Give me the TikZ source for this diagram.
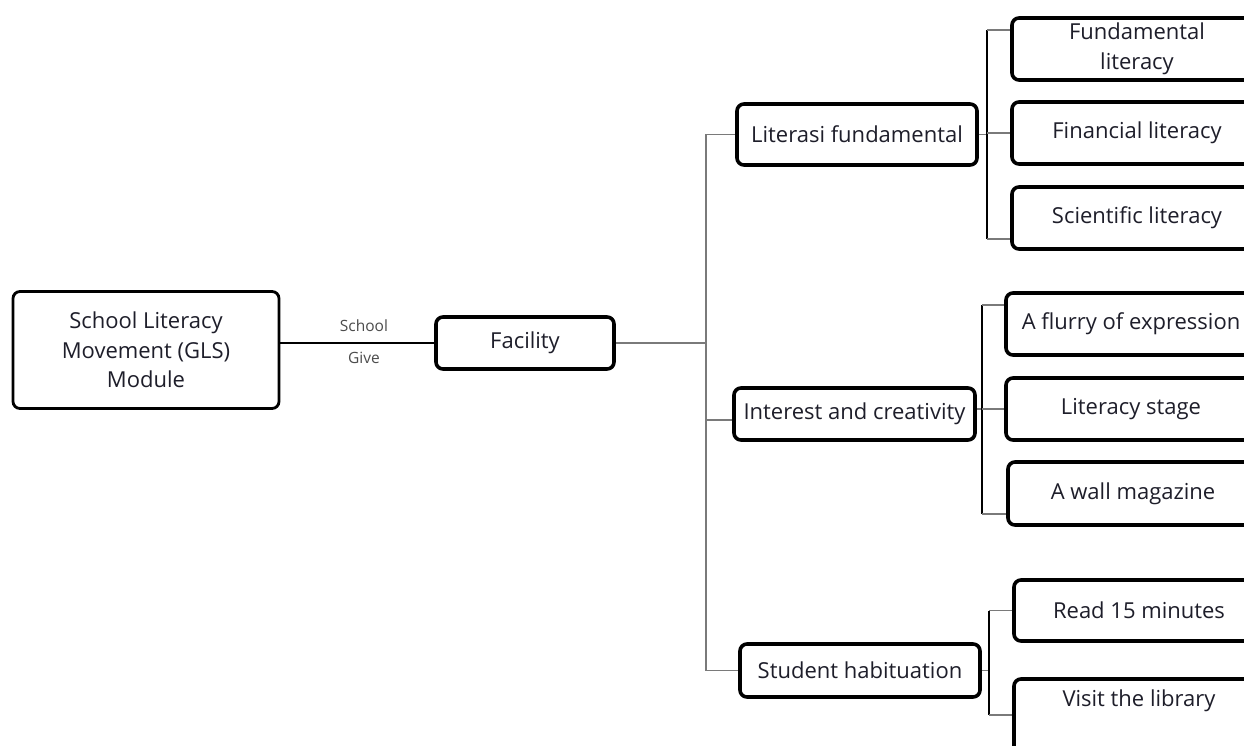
\documentclass[tikz,border=0pt]{standalone}
\usepackage{fontspec}
\setmainfont{Open Sans}
\definecolor{txt}{HTML}{1E1E2A}
\definecolor{stubgray}{HTML}{7A7A7A}
\begin{document}
\begin{tikzpicture}[x=1pt,y=-1pt,
  box/.style={draw=black, fill=white, rounded corners=7pt, line width=3.6pt,
    inner sep=0pt, align=center, text=txt, font=\fontsize{22}{29.5}\selectfont},
  main/.style={box, line width=2.8pt},
  lab/.style={text=black!70, font=\fontsize{15.5}{18}\selectfont, inner sep=0pt},
  thin/.style={draw=stubgray, line width=1.6pt},
  bar/.style={draw=black, line width=2.6pt},
  link/.style={draw=black, line width=2.6pt}]
\useasboundingbox (0,0) rectangle (1244,746);
\clip (0,0) rectangle (1244,746);
\fill[white] (0,0) rectangle (1244,746);

\node[main, minimum width=266pt, minimum height=117pt] (gls) at (146,350) {School Literacy\\Movement (GLS)\\Module};
\node[box, minimum width=178pt, minimum height=52pt] (fac) at (525,343) {Facility};
\node[box, minimum width=240pt, minimum height=61pt] (lf) at (857,134.5) {Literasi fundamental};
\node[box, minimum width=241pt, minimum height=52pt] (ic) at (854.5,414) {Interest and creativity};
\node[box, minimum width=240pt, minimum height=53pt] (sh) at (860,670.5) {Student habituation};

\node[box, minimum width=250pt, minimum height=62pt] (c11) at (1137,49) {Fundamental\\literacy};
\node[box, minimum width=250pt, minimum height=62pt] (c12) at (1137,133) {Financial literacy};
\node[box, minimum width=250pt, minimum height=62pt] (c13) at (1137,218) {Scientific literacy};
\node[box, minimum width=250pt, minimum height=62pt] (c21) at (1131,324) {A flurry of expression};
\node[box, minimum width=250pt, minimum height=62pt] (c22) at (1131,409) {Literacy stage};
\node[box, minimum width=250pt, minimum height=63pt] (c23) at (1133,493.5) {A wall magazine};
\node[box, minimum width=250pt, minimum height=61pt] (c31) at (1139,610.5) {Read 15 minutes};
\node[box, minimum width=250pt, inner ysep=4pt, text height=23pt, text depth=51pt] (c32) at (1139,720) {Visit the library};

% labels on first connector
\node[lab] (l1) at (364,326) {School};
\node[lab] (l2) at (364,358) {Give};

% junction of the trunk
\coordinate (t) at (706,343);

% connectors
\draw[link] (fac.west -| gls.east) -- (fac.west);
\draw[thin] (fac.east) -- (t);
\draw[thin] (t) |- (lf.west);
\draw[thin] (t) |- ([yshift=-6pt]ic.west);
\draw[thin] (t) |- (sh.west);

% group 1
\coordinate (s1) at (987,134);
\coordinate (a1) at ([yshift=-14pt]c11.north west);
\coordinate (b1) at ([yshift=12pt]c13.south west);
\draw[thin] (lf.east) -- (lf.east -| s1);
\draw[bar] (a1 -| s1) -- (b1 -| s1);
\draw[thin] (a1 -| s1) -- (a1);
\draw[thin] (s1 |- c12.west) -- (c12.west);
\draw[thin] (b1 -| s1) -- (b1);

% group 2
\coordinate (s2) at (982,409);
\coordinate (a2) at ([yshift=-14pt]c21.north west);
\coordinate (b2) at ([yshift=13pt]c23.south west);
\draw[thin] (s2 |- c22.west) -- (ic.east |- c22.west);
\draw[bar] (a2 -| s2) -- (b2 -| s2);
\draw[thin] (a2 -| s2) -- (a2);
\draw[thin] (s2 |- c22.west) -- (c22.west);
\draw[thin] (b2 -| s2) -- (b2);

% group 3
\coordinate (s3) at (989,670);
\coordinate (a3) at (c31.west);
\coordinate (b3) at ([yshift=-38pt]c32.north west);
\draw[thin] (sh.east) -- (sh.east -| s3);
\draw[bar] (a3 -| s3) -- (b3 -| s3);
\draw[thin] (a3 -| s3) -- (a3);
\draw[thin] (b3 -| s3) -- (b3);
\end{tikzpicture}
\end{document}
